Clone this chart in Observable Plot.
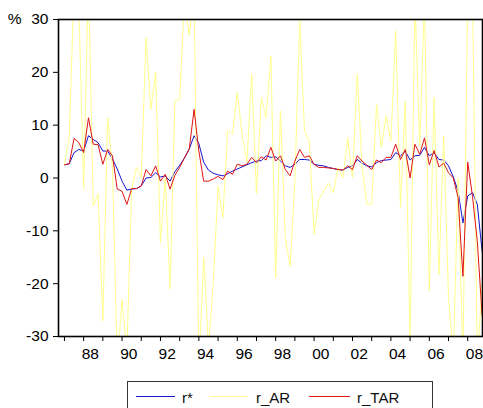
<!DOCTYPE html>
<html><head><meta charset="utf-8">
<script src="https://cdn.jsdelivr.net/npm/d3@7"></script>
<script src="https://cdn.jsdelivr.net/npm/@observablehq/plot@0.6"></script>
<style>
html,body{margin:0;padding:0;background:#fff;}
body{width:483px;height:408px;overflow:hidden;position:relative;font-family:"Liberation Sans",Arial,sans-serif;}
#legend{position:absolute;left:127px;top:381px;width:306px;height:40px;border:1px solid #333;box-sizing:border-box;background:#fff;}
#legend .sw{position:absolute;top:14px;height:1px;}
#legend .lb{position:absolute;top:8px;font-size:15px;line-height:15px;color:#111;white-space:nowrap;}
</style></head>
<body>
<div id="chart"></div>
<div id="legend"></div>
<script>
// Quarterly data, 1987Q1 .. 2008Q4
const startYear = 1987;
const seriesNames = ["r*", "r_AR", "r_TAR"];
const seriesColors = ["#1414d0", "#ffff8c", "#e01414"];

const rStar = [
  2.5, 2.7, 4.8, 5.4, 5.1, 8.0, 7.3, 6.7, 5.1, 5.1,
  3.6, 1.7, -0.6, -2.3, -2.1, -2.0, -1.5, 0.0, 0.1, 1.0,
  0.2, 0.4, -0.6, 1.2, 2.4, 3.8, 5.5, 8.0, 6.5, 3.0,
  1.5, 0.9, 0.6, 0.4, 0.8, 1.3, 1.7, 2.1, 2.5, 2.9,
  3.2, 3.3, 4.2, 3.9, 4.0, 3.2, 2.3, 2.0, 2.6, 3.5,
  3.5, 3.4, 2.6, 2.4, 2.3, 2.0, 1.8, 1.6, 1.5, 2.0,
  2.3, 3.5, 2.8, 2.3, 2.1, 2.9, 3.3, 3.4, 3.5, 4.8,
  4.2, 5.1, 3.4, 4.2, 4.3, 5.8, 4.2, 4.8, 3.5, 3.4,
  2.3, 0.2, -2.5, -8.5, -3.4, -2.8, -5.0, -13.9
];
const rAR = [
  2.5, 8, 36, 33, -2, 38, -5.3, -3, -27, 11.4,
  2, -35, -23, -33, -2, 2, 0, 26.6, 13, 20,
  -12.3, 0, -21, 14.6, 14.9, 34, 27, 35, -36, -15,
  -32, -20, -1.5, -7.5, 8.9, 8.3, 16.2, 8.3, 3, 19.7,
  -3, 15.2, 11.4, 23.1, -18.9, 12.7, -11.3, -16.7, -0.6, 29.8,
  8.9, 7.0, -10.7, -4, -2.5, -1, -2.8, 2, 0, 7.6,
  0, 19.7, 2, -5, -5, 14, 5.8, 11.8, 7, 27.9,
  -5.6, 14.6, -31, 34, 6, 34, -21.4, 15.2, -18.3, 8,
  -22.7, -34, 0, -35, 35, 35, -35, -20
];
const rTAR = [
  2.5, 2.7, 7.5, 6.7, 4.8, 11.4, 6.4, 6.3, 2.6, 5.4,
  4.2, -2.1, -2.5, -5.0, -2.0, -2.0, -1.5, 1.6, 0.4, 2.3,
  -0.6, 0.7, -2.1, 0.5, 2.0, 3.8, 5.5, 13.0, 5.1, -0.6,
  -0.6, -0.2, 0.3, -0.3, 1.3, 0.7, 2.6, 2.3, 2.6, 3.9,
  2.9, 4.0, 3.4, 5.8, 3.2, 4.2, 1.6, 0.4, 3.2, 5.4,
  3.9, 4.2, 2.6, 2.0, 2.0, 1.9, 1.8, 1.6, 1.5, 2.3,
  1.6, 4.2, 3.2, 2.4, 1.6, 3.4, 2.9, 3.9, 3.9, 6.4,
  3.5, 5.4, 0.0, 6.4, 4.5, 7.6, 2.5, 5.2, 2.1, 2.8,
  1.0, 0.0, -3.7, -18.6, 3.0, -3.5, -12.0, -26.0
];

const yTicks = [-30, -20, -10, 0, 10, 20, 30];
const yearTicks = [1987,1988,1989,1990,1991,1992,1993,1994,1995,1996,1997,1998,1999,2000,2001,2002,2003,2004,2005,2006,2007,2008];
const labelYears = [1988,1990,1992,1994,1996,1998,2000,2002,2004,2006,2008];
const xTickLabels = ["88","90","92","94","96","98","00","02","04","06","08"];

const values = [rStar, rAR, rTAR];
const rows = [];
values.forEach((arr, s) => arr.forEach((v, i) => rows.push({series: seriesNames[s], date: startYear + i / 4, value: v})));

const labelPos = labelYears.map(y => y + 0.35);
const labelMap = new Map(labelPos.map((p, i) => [p, xTickLabels[i]]));

const chart = Plot.plot({
  width: 483, height: 378,
  marginLeft: 58, marginRight: 1, marginTop: 19, marginBottom: 42,
  style: {fontFamily: '"Liberation Sans", Arial, sans-serif', fontSize: "15px", color: "#000", background: "#fff", overflow: "visible"},
  x: {domain: [1986.69, 2008.77]},
  y: {domain: [-30, 30]},
  color: {domain: seriesNames, range: seriesColors},
  marks: [
    Plot.lineY(rows, {x: "date", y: "value", z: "series", stroke: "series", strokeWidth: 1, clip: true}),
    Plot.axisY(yTicks, {tickSize: 5, tickPadding: 5, label: null, stroke: "#000", fontSize: 15.5, tickFormat: d => String(d)}),
    Plot.axisX(yearTicks, {tickSize: 5, tickFormat: () => "", label: null, stroke: "#000"}),
    Plot.axisX(labelPos, {tickSize: 0, tickPadding: 11, tickFormat: d => labelMap.get(d), label: null, fontSize: 15.5}),
    Plot.text(["%"], {text: d => d, frameAnchor: "top-left", dx: -37, textAnchor: "end", lineAnchor: "middle", fontSize: 15.5}),
    Plot.frame({stroke: "#000", strokeWidth: 1.6})
  ]
});
document.getElementById("chart").appendChild(chart);

// legend
const legend = document.getElementById("legend");
const swLeft = [8, 82, 181], swWidth = [39, 38, 41], lbLeft = [54, 128, 229];
seriesNames.forEach((n, i) => {
  const sw = document.createElement("span");
  sw.className = "sw";
  sw.style.left = swLeft[i] + "px";
  sw.style.width = swWidth[i] + "px";
  sw.style.background = seriesColors[i];
  legend.appendChild(sw);
  const lb = document.createElement("span");
  lb.className = "lb";
  lb.style.left = lbLeft[i] + "px";
  lb.textContent = n;
  legend.appendChild(lb);
});
</script>
</body></html>
